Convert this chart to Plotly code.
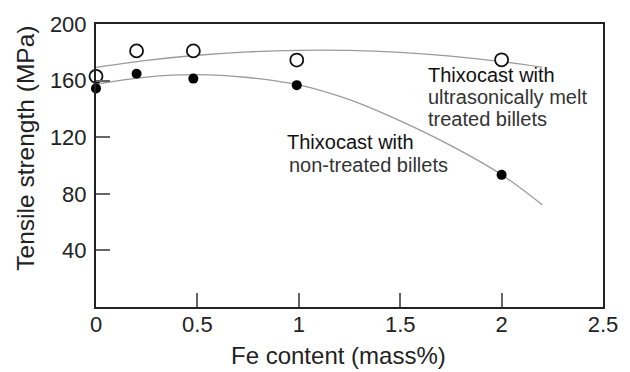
import plotly.graph_objects as go

# Measured data points
fe_points = [0.0, 0.2, 0.48, 0.99, 2.0]
ultra_values = [163, 181, 181, 174.5, 174.7]
nontreated_values = [154.5, 164.8, 161.4, 156.8, 93.4]

# Trend curves
curve_x = [0.0, 0.25, 0.5, 0.75, 1.0, 1.25, 1.5, 1.75, 2.0, 2.2]
ultra_curve = [169.4, 174.3, 177.9, 180.3, 181.4, 181.3, 179.9, 177.3, 173.4, 169.4]
nontreated_curve = [157.5, 162.5, 164.2, 162.2, 157.0, 146.5, 131.5, 114.0, 93.5, 72.3]

x_ticks = [0, 0.5, 1, 1.5, 2, 2.5]
x_tick_text = ["0", "0.5", "1", "1.5", "2", "2.5"]
y_ticks = [40, 80, 120, 160, 200]
y_tick_text = ["40", "80", "120", "160", "200"]

FONT = "Liberation Sans, Arial, sans-serif"
CURVE_COLOR = "#9a9a9a"

fig = go.Figure()
fig.add_trace(go.Scatter(x=curve_x, y=ultra_curve, mode="lines",
                         line=dict(color=CURVE_COLOR, width=1.3, shape="spline"),
                         hoverinfo="skip", showlegend=False))
fig.add_trace(go.Scatter(x=curve_x, y=nontreated_curve, mode="lines",
                         line=dict(color=CURVE_COLOR, width=1.3, shape="spline"),
                         hoverinfo="skip", showlegend=False))
fig.add_trace(go.Scatter(x=fe_points, y=nontreated_values, mode="markers",
                         marker=dict(symbol="circle", size=10, color="#000000"),
                         showlegend=False, cliponaxis=False))
fig.add_trace(go.Scatter(x=fe_points, y=ultra_values, mode="markers",
                         marker=dict(symbol="circle", size=13, color="#ffffff",
                                     line=dict(color="#111111", width=1.8)),
                         showlegend=False, cliponaxis=False))

ann_font = dict(family=FONT, size=20, color="#111111")
ann_font2 = dict(family=FONT, size=20, color="#333333")
labels = [
    (1.628, 164.0, "Thixocast with", ann_font),
    (1.627, 148.6, "ultrasonically melt", ann_font2),
    (1.627, 133.2, "treated billets", ann_font2),
    (0.934, 116.4, "Thixocast with", ann_font),
    (0.940, 100.4, "non-treated billets", ann_font2),
]
for x, y, t, f in labels:
    fig.add_annotation(x=x, y=y, xref="x", yref="y", text=t, showarrow=False,
                       xanchor="left", yanchor="middle", font=f)

pw = 630 - 96 - 26
ph = 372 - 15 - 65
# Axis titles
fig.add_annotation(x=(339 - 96) / pw, y=(372 - 65 - 357) / ph, xref="paper", yref="paper",
                   text="Fe content (mass%)", showarrow=False,
                   xanchor="center", yanchor="middle",
                   font=dict(family=FONT, size=24, color="#222222"))
fig.add_annotation(x=(25 - 96) / pw, y=(372 - 65 - 143.5) / ph, xref="paper", yref="paper",
                   text="Tensile strength (MPa)", textangle=-90, showarrow=False,
                   xanchor="center", yanchor="middle",
                   font=dict(family=FONT, size=24.5, color="#222222"))

fig.update_layout(
    width=630, height=372,
    margin=dict(l=96, r=26, t=15, b=65),
    paper_bgcolor="white", plot_bgcolor="white",
    font=dict(family=FONT, color="#222222"),
    showlegend=False,
)

fig.update_xaxes(range=[0, 2.5], tickvals=x_ticks, ticktext=x_tick_text,
                 ticks="inside", ticklen=14, tickwidth=1.5, tickcolor="#666666",
                 showline=True, linecolor="#222222", linewidth=2, mirror=True,
                 showgrid=False, zeroline=False, ticklabelstandoff=-3,
                 tickfont=dict(family=FONT, size=22, color="#222222"))
fig.update_yaxes(range=[0, 200], tickvals=y_ticks, ticktext=y_tick_text,
                 ticks="inside", ticklen=14, tickwidth=1.5, tickcolor="#666666",
                 showline=True, linecolor="#222222", linewidth=2, mirror=True,
                 showgrid=False, zeroline=False, ticklabelstandoff=3,
                 tickfont=dict(family=FONT, size=22, color="#222222"))

fig.write_html("out.html")
